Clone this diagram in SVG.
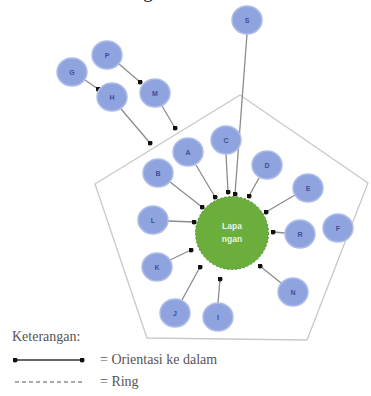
<svg xmlns="http://www.w3.org/2000/svg" width="371" height="396" viewBox="0 0 371 396">
<style>
.n ellipse{fill:#8fa4de;stroke:#aebde8;stroke-width:1.5}
.n text{font-family:"Liberation Sans",Arial,sans-serif;font-size:7px;font-weight:bold;fill:#3d4f9c;text-anchor:middle}
.c line{stroke:#8c8c8c;stroke-width:1.3;marker-end:url(#dot)}
.lg{font-family:"Liberation Serif","Times New Roman",serif;font-size:14px;fill:#555}
</style>
<defs>
<marker id="dot" viewBox="0 0 6 6" refX="3" refY="3" markerWidth="5" markerHeight="5" markerUnits="userSpaceOnUse"><circle cx="3" cy="3" r="3" fill="#111"/></marker>
</defs>
<rect width="371" height="396" fill="#fff"/>
<text x="143" y="-3" font-family="Liberation Serif,serif" font-size="20" fill="#222">g</text>
<polygon points="240,95 368,183 307,340 147,338 95,184" fill="none" stroke="#c9c9c9" stroke-width="1.3"/>
<g id="connectors" class="c">
<line x1="85" y1="80" x2="98" y2="89"/>
<line x1="119" y1="64" x2="140" y2="82"/>
<line x1="121" y1="109" x2="150" y2="143"/>
<line x1="162" y1="106" x2="175" y2="128"/>
<line x1="247" y1="34" x2="235" y2="194"/>
<line x1="226" y1="154" x2="228" y2="192"/>
<line x1="196" y1="165" x2="215" y2="197"/>
<line x1="259" y1="178" x2="249" y2="196"/>
<line x1="170" y1="182" x2="202" y2="207"/>
<line x1="295" y1="195" x2="266" y2="212"/>
<line x1="168" y1="221" x2="194" y2="222"/>
<line x1="285" y1="233" x2="273" y2="232"/>
<line x1="170" y1="260" x2="191" y2="250"/>
<line x1="182" y1="300" x2="200" y2="267"/>
<line x1="218" y1="303" x2="220" y2="279"/>
<line x1="281" y1="283" x2="260" y2="266"/>
</g>
<g id="center">
<circle cx="232" cy="233" r="36.5" fill="#6cae3c" stroke="#4f8a2a" stroke-width="1" stroke-dasharray="2,2"/>
<text x="232" y="229" font-family="Liberation Sans,Arial,sans-serif" font-size="8.5" font-weight="bold" fill="#e8f5dc" text-anchor="middle">Lapa</text>
<text x="232" y="242" font-family="Liberation Sans,Arial,sans-serif" font-size="8.5" font-weight="bold" fill="#e8f5dc" text-anchor="middle">ngan</text>
</g>
<g id="S" class="n"><ellipse cx="247" cy="20" rx="15" ry="14"/><text x="247" y="22.5">S</text></g>
<g id="P" class="n"><ellipse cx="107" cy="55" rx="15" ry="14"/><text x="107" y="57.5">P</text></g>
<g id="G" class="n"><ellipse cx="72" cy="72" rx="15" ry="14"/><text x="72" y="74.5">G</text></g>
<g id="H" class="n"><ellipse cx="112" cy="97" rx="15" ry="14"/><text x="112" y="99.5">H</text></g>
<g id="M" class="n"><ellipse cx="155" cy="93" rx="15" ry="14"/><text x="155" y="95.5">M</text></g>
<g id="A" class="n"><ellipse cx="188" cy="152" rx="15" ry="14"/><text x="188" y="154.5">A</text></g>
<g id="C" class="n"><ellipse cx="226" cy="140" rx="15" ry="14"/><text x="226" y="142.5">C</text></g>
<g id="D" class="n"><ellipse cx="267" cy="165" rx="15" ry="14"/><text x="267" y="167.5">D</text></g>
<g id="B" class="n"><ellipse cx="158" cy="173" rx="15" ry="14"/><text x="158" y="175.5">B</text></g>
<g id="E" class="n"><ellipse cx="308" cy="188" rx="15" ry="14"/><text x="308" y="190.5">E</text></g>
<g id="L" class="n"><ellipse cx="153" cy="220" rx="15" ry="14"/><text x="153" y="222.5">L</text></g>
<g id="F" class="n"><ellipse cx="338" cy="228" rx="15" ry="14"/><text x="338" y="230.5">F</text></g>
<g id="R" class="n"><ellipse cx="300" cy="234" rx="15" ry="14"/><text x="300" y="236.5">R</text></g>
<g id="K" class="n"><ellipse cx="157" cy="267" rx="15" ry="14"/><text x="157" y="269.5">K</text></g>
<g id="N" class="n"><ellipse cx="293" cy="292" rx="15" ry="14"/><text x="293" y="294.5">N</text></g>
<g id="J" class="n"><ellipse cx="175" cy="313" rx="15" ry="14"/><text x="175" y="315.5">J</text></g>
<g id="I" class="n"><ellipse cx="218" cy="317" rx="15" ry="14"/><text x="218" y="319.5">I</text></g>
<g id="legend">
<text class="lg" x="12" y="341">Keterangan:</text>
<line x1="15" y1="360" x2="82" y2="360" stroke="#333" stroke-width="1.5" marker-start="url(#dot)" marker-end="url(#dot)"/>
<text class="lg" x="100" y="364">= Orientasi ke dalam</text>
<line x1="15" y1="382" x2="82" y2="382" stroke="#555" stroke-width="1.2" stroke-dasharray="4,3"/>
<text class="lg" x="100" y="386">= Ring</text>
</g>
</svg>
